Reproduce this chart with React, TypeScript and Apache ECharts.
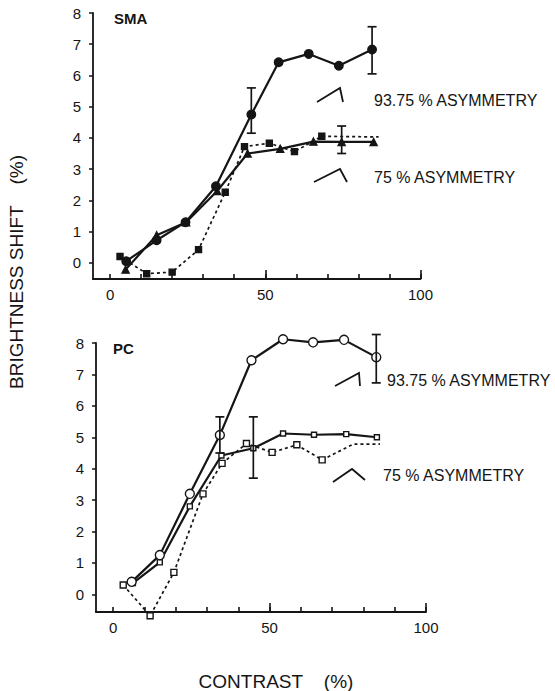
import React, { useEffect, useRef } from "react";
import * as echarts from "echarts";

// ---- axis ticks / labels ----
const xTickValues = [0, 10, 20, 30, 40, 50, 60, 70, 80, 90, 100];
const xMajorTicks = [50, 100];
const xLabelValues = [0, 50, 100];
const yTickValues = [0, 1, 2, 3, 4, 5, 6, 7, 8];

// ---- SMA panel ----
const smaHighX = [5.2, 15, 24.3, 34.1, 45.5, 54.3, 64, 73.7, 84.4];
const smaHighY = [0.05, 0.72, 1.3, 2.45, 4.75, 6.42, 6.69, 6.31, 6.83];
const smaLowX = [5, 15, 24.5, 34.5, 44.3, 54.8, 65.5, 74.6, 84.9];
const smaLowY = [-0.22, 0.88, 1.3, 2.3, 3.5, 3.65, 3.88, 3.87, 3.87];
const smaDotX = [3.2, 11.8, 20, 28.5, 37.1, 43.3, 51.3, 59.4, 68.2, 86.5];
const smaDotY = [0.2, -0.35, -0.3, 0.42, 2.26, 3.72, 3.83, 3.56, 4.05, 4.03];
const smaErrX = [45.5, 84.4, 74.6];
const smaErrLow = [4.15, 6.05, 3.5];
const smaErrHigh = [5.6, 7.56, 4.38];

// ---- PC panel ----
const pcHighX = [5.9, 14.9, 24.5, 34.1, 44.2, 54.3, 63.9, 73.8, 84.1];
const pcHighY = [0.4, 1.25, 3.2, 5.07, 7.45, 8.12, 8.02, 8.1, 7.55];
const pcLowX = [6.3, 14.9, 24.5, 34.6, 44.8, 54.3, 64.2, 74.5, 84.3];
const pcLowY = [0.36, 1.02, 2.8, 4.42, 4.65, 5.12, 5.08, 5.1, 5.0];
const pcDotX = [3.2, 11.8, 19.4, 28.7, 34.8, 42.6, 50.8, 58.7, 66.8, 76.7, 85.3];
const pcDotY = [0.3, -0.68, 0.7, 3.2, 4.17, 4.8, 4.52, 4.76, 4.28, 4.78, 4.78];
const pcErrX = [34.1, 44.8, 84.1];
const pcErrLow = [4.5, 3.7, 6.73];
const pcErrHigh = [5.65, 5.65, 8.27];

const INK = "#151515";
const FONT = "'Liberation Sans', Arial, Helvetica, sans-serif";

const zip = (xs: number[], ys: number[]) => xs.map((x, i) => [x, ys[i]]);
const zipNoMarkerTail = (xs: number[], ys: number[], tail: number) =>
  xs.map((x, i) =>
    i >= xs.length - tail ? { value: [x, ys[i]], symbol: "none" } : [x, ys[i]]
  );
const zipErr = (xs: number[], lo: number[], hi: number[]) =>
  xs.map((x, i) => [x, lo[i], hi[i]]);

function errorRender(params: any, api: any) {
  const x = api.value(0);
  const p1 = api.coord([x, api.value(1)]);
  const p2 = api.coord([x, api.value(2)]);
  const w = 4.5;
  const st = { stroke: INK, lineWidth: 1.7 };
  return {
    type: "group",
    children: [
      { type: "line", shape: { x1: p1[0], y1: p1[1], x2: p2[0], y2: p2[1] }, style: st },
      { type: "line", shape: { x1: p1[0] - w, y1: p1[1], x2: p1[0] + w, y2: p1[1] }, style: st },
      { type: "line", shape: { x1: p2[0] - w, y1: p2[1], x2: p2[0] + w, y2: p2[1] }, style: st },
    ],
  };
}

function mainX(gridIndex: number) {
  return {
    type: "value",
    gridIndex,
    min: -5.5,
    max: 100,
    position: "bottom",
    axisLine: { show: true, onZero: false, lineStyle: { color: INK, width: 1.8 } },
    axisTick: {
      show: true,
      inside: true,
      length: 5,
      customValues: xTickValues,
      lineStyle: { color: INK, width: 1.6 },
    },
    axisLabel: {
      show: true,
      customValues: xLabelValues,
      color: INK,
      fontSize: 15,
      fontFamily: FONT,
      margin: 8,
    },
    splitLine: { show: false },
  };
}

function majorX(gridIndex: number) {
  return {
    type: "value",
    gridIndex,
    min: -5.5,
    max: 100,
    position: "bottom",
    axisLine: { show: false, onZero: false },
    axisTick: {
      show: true,
      inside: true,
      length: 9,
      customValues: xMajorTicks,
      lineStyle: { color: INK, width: 1.6 },
    },
    axisLabel: { show: false },
    splitLine: { show: false },
  };
}

function mainY(gridIndex: number, min: number) {
  return {
    type: "value",
    gridIndex,
    min,
    max: 8,
    axisLine: { show: true, onZero: false, lineStyle: { color: INK, width: 1.8 } },
    axisTick: {
      show: true,
      inside: false,
      length: 4,
      customValues: yTickValues,
      lineStyle: { color: INK, width: 1.5 },
    },
    axisLabel: {
      show: true,
      customValues: yTickValues,
      color: INK,
      fontSize: 15,
      fontFamily: FONT,
      margin: 12,
    },
    splitLine: { show: false },
  };
}

function lineSeries(
  xAxisIndex: number,
  yAxisIndex: number,
  data: any[],
  opts: { dashed?: boolean; symbol: string; size: number; fill: string; width: number }
) {
  return {
    type: "line",
    xAxisIndex,
    yAxisIndex,
    data,
    clip: false,
    symbol: opts.symbol,
    symbolSize: opts.size,
    showAllSymbol: true,
    lineStyle: {
      color: INK,
      width: opts.width,
      type: opts.dashed ? [3, 3] : "solid",
    },
    itemStyle: { color: opts.fill, borderColor: INK, borderWidth: 1.4 },
    z: 3,
  };
}

function textEl(text: string, x: number, y: number, size: number, weight = "normal") {
  return {
    type: "text",
    x,
    y,
    style: {
      text,
      fill: INK,
      font: `${weight} ${size}px ${FONT}`,
      textAlign: "left",
      textVerticalAlign: "middle",
    },
  };
}

function wave(points: number[][]) {
  return {
    type: "polyline",
    shape: { points },
    style: { stroke: INK, lineWidth: 1.8, fill: "none" },
  };
}

export default function App() {
  const ref = useRef<HTMLDivElement>(null);

  useEffect(() => {
    if (!ref.current) return;
    const chart = echarts.init(ref.current, undefined, { renderer: "svg" });
    const option: any = {
      animation: false,
      backgroundColor: "#ffffff",
      grid: [
        { left: 93, top: 13, width: 327.5, height: 266 },
        { left: 96, top: 343, width: 330, height: 269 },
      ],
      xAxis: [mainX(0), mainX(1), majorX(0), majorX(1)],
      yAxis: [mainY(0, -0.52), mainY(1, -0.56)],
      series: [
        // SMA
        lineSeries(2, 0, zipNoMarkerTail(smaDotX, smaDotY, 1), {
          dashed: true, symbol: "rect", size: 6, fill: INK, width: 1.7,
        }),
        lineSeries(0, 0, zip(smaLowX, smaLowY), {
          symbol: "triangle", size: 7, fill: INK, width: 2.2,
        }),
        lineSeries(0, 0, zip(smaHighX, smaHighY), {
          symbol: "circle", size: 8.5, fill: INK, width: 2.2,
        }),
        {
          type: "custom",
          xAxisIndex: 0,
          yAxisIndex: 0,
          data: zipErr(smaErrX, smaErrLow, smaErrHigh),
          renderItem: errorRender,
          clip: false,
          z: 4,
        },
        // PC
        lineSeries(3, 1, zipNoMarkerTail(pcDotX, pcDotY, 2), {
          dashed: true, symbol: "rect", size: 6, fill: "#ffffff", width: 1.7,
        }),
        lineSeries(1, 1, zip(pcLowX, pcLowY), {
          symbol: "rect", size: 5, fill: "#ffffff", width: 2.2,
        }),
        lineSeries(1, 1, zip(pcHighX, pcHighY), {
          symbol: "circle", size: 9, fill: "#ffffff", width: 2.2,
        }),
        {
          type: "custom",
          xAxisIndex: 1,
          yAxisIndex: 1,
          data: zipErr(pcErrX, pcErrLow, pcErrHigh),
          renderItem: errorRender,
          clip: false,
          z: 4,
        },
      ],
      graphic: [
        textEl("SMA", 114, 18, 15, "bold"),
        textEl("PC", 113, 348, 15, "bold"),
        textEl("93.75 % ASYMMETRY", 374, 100, 16),
        textEl("75 % ASYMMETRY", 374, 177, 16),
        textEl("93.75 % ASYMMETRY", 387, 380, 16),
        textEl("75 % ASYMMETRY", 383, 475, 16),
        wave([[317, 102], [340, 88], [343, 102]]),
        wave([[314, 182], [340, 169], [347, 182]]),
        wave([[335, 386], [359, 373], [360, 386]]),
        wave([[333, 482], [352, 469], [365, 480]]),
        {
          type: "text",
          x: 16,
          y: 272,
          rotation: Math.PI / 2,
          style: {
            text: "BRIGHTNESS SHIFT    (%)",
            fill: INK,
            font: `normal 19px ${FONT}`,
            textAlign: "center",
            textVerticalAlign: "middle",
          },
        },
        {
          type: "text",
          x: 276,
          y: 681,
          style: {
            text: "CONTRAST    (%)",
            fill: INK,
            font: `normal 19px ${FONT}`,
            textAlign: "center",
            textVerticalAlign: "middle",
          },
        },
      ],
    };
    chart.setOption(option);
    return () => chart.dispose();
  }, []);

  return (
    <div
      ref={ref}
      style={{ position: "fixed", left: 0, top: 0, width: 555, height: 691, background: "#fff" }}
    />
  );
}
